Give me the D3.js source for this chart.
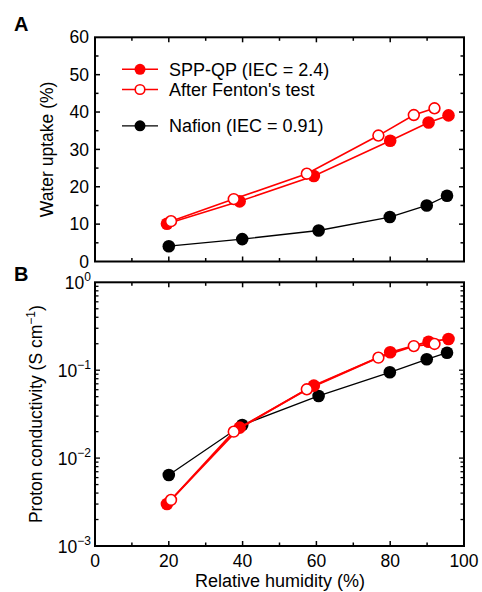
<!DOCTYPE html>
<html><head><meta charset="utf-8">
<script src="https://cdn.jsdelivr.net/npm/d3@7"></script>
<style>body{margin:0;background:#fff}svg{display:block;font-family:Arial,"Liberation Sans",sans-serif}</style>
</head><body>
<script>
// Data
const seriesNames = ["SPP-QP (IEC = 2.4)", "After Fenton's test", "Nafion (IEC = 0.91)"];
const rhSPP = [19.5, 39.2, 59.3, 80, 90.4, 95.8];
const rhFenton = [20.6, 37.6, 57.4, 76.8, 86.4, 92];
const rhNafion = [20, 39.9, 60.6, 79.9, 89.9, 95.4];
const wuSPP = [10.1, 16.1, 22.9, 32.3, 37.2, 39.1];
const wuFenton = [10.8, 16.7, 23.5, 33.7, 39.2, 41.0];
const wuNafion = [4.1, 6.0, 8.3, 11.9, 15.0, 17.6];
const pcSPP = [0.0030, 0.0222, 0.0667, 0.160, 0.211, 0.226];
const pcFenton = [0.00334, 0.0200, 0.0606, 0.139, 0.188, 0.199];
const pcNafion = [0.00643, 0.0238, 0.0509, 0.0946, 0.133, 0.158];
const xTicks = [0, 20, 40, 60, 80, 100];
const yTicksA = [0, 10, 20, 30, 40, 50, 60];
const yTicksB = [1e-3, 1e-2, 1e-1, 1];
const yTickExpB = ["−3", "−2", "−1", "0"];

const W = 482, H = 592;
const svg = d3.select("body").append("svg").attr("width", W).attr("height", H);

const x = d3.scaleLinear().domain([0, 100]).range([95, 464]);
const yA = d3.scaleLinear().domain([0, 60]).range([261.5, 37.3]);
const yB = d3.scaleLog().domain([1e-3, 1]).range([546, 282.3]);

const red = "#ff0000";

function frame(yTop, yBot) {
  svg.append("rect").attr("x", x(0)).attr("y", yTop).attr("width", x(100) - x(0)).attr("height", yBot - yTop)
    .attr("fill", "none").attr("stroke", "#000").attr("stroke-width", 2);
}

function xTicksDraw(yTop, yBot) {
  const g = svg.append("g").attr("stroke", "#000").attr("stroke-width", 1.5);
  d3.range(10, 100, 10).forEach(v => {
    const len = v % 20 === 0 ? 5 : 3.5;
    g.append("line").attr("x1", x(v)).attr("x2", x(v)).attr("y1", yBot).attr("y2", yBot - len);
    g.append("line").attr("x1", x(v)).attr("x2", x(v)).attr("y1", yTop).attr("y2", yTop + len);
  });
}

// Panel A
frame(yA(60), yA(0));
xTicksDraw(yA(60), yA(0));
{
  const g = svg.append("g").attr("stroke", "#000").attr("stroke-width", 1.5);
  d3.range(5, 60, 5).forEach(v => {
    const len = v % 10 === 0 ? 5 : 3.5;
    g.append("line").attr("x1", x(0)).attr("x2", x(0) + len).attr("y1", yA(v)).attr("y2", yA(v));
    g.append("line").attr("x1", x(100)).attr("x2", x(100) - len).attr("y1", yA(v)).attr("y2", yA(v));
  });
  svg.append("g").selectAll("text").data(yTicksA).join("text")
    .attr("x", 89).attr("y", d => yA(d)).attr("dy", "0.35em").attr("text-anchor", "end")
    .attr("font-size", 17.5).text(d => d);
}

function series(xs, ys, yScale, color, open, sw) {
  const line = d3.line().x((d, i) => x(xs[i])).y(d => yScale(d));
  svg.append("path").attr("d", line(ys)).attr("fill", "none").attr("stroke", color).attr("stroke-width", sw);
  svg.append("g").selectAll("circle").data(ys).join("circle")
    .attr("cx", (d, i) => x(xs[i])).attr("cy", d => yScale(d))
    .attr("r", open ? 5.4 : 6.3)
    .attr("fill", open ? "#fff" : color)
    .attr("stroke", open ? color : "none").attr("stroke-width", open ? 1.6 : 0);
}

series(rhNafion, wuNafion, yA, "#000", false, 1.3);
series(rhSPP, wuSPP, yA, red, false, 1.6);
series(rhFenton, wuFenton, yA, red, true, 1.6);

// Legend
const legend = [
  {name: seriesNames[0], color: red, open: false, y: 69.3},
  {name: seriesNames[1], color: red, open: true, y: 89.5},
  {name: seriesNames[2], color: "#000", open: false, y: 125.8}
];
legend.forEach(l => {
  svg.append("line").attr("x1", 122).attr("x2", 158).attr("y1", l.y).attr("y2", l.y)
    .attr("stroke", l.color).attr("stroke-width", l.color === "#000" ? 1.3 : 1.6);
  svg.append("circle").attr("cx", 140).attr("cy", l.y).attr("r", l.open ? 4.8 : 5.5)
    .attr("fill", l.open ? "#fff" : l.color).attr("stroke", l.open ? l.color : "none").attr("stroke-width", 1.6);
  svg.append("text").attr("x", 169).attr("y", l.y).attr("dy", "0.36em").attr("font-size", 18).text(l.name);
});

// Axis title A
svg.append("text").attr("transform", `translate(53,${(yA(0) + yA(60)) / 2}) rotate(-90)`)
  .attr("text-anchor", "middle").attr("font-size", 17.5).text("Water uptake (%)");

// Panel labels
svg.append("text").attr("x", 14).attr("y", 31).attr("font-size", 20).attr("font-weight", "bold").text("A");
svg.append("text").attr("x", 14).attr("y", 281).attr("font-size", 20).attr("font-weight", "bold").text("B");

// Panel B
frame(yB(1), yB(1e-3));
xTicksDraw(yB(1), yB(1e-3));
{
  const g = svg.append("g").attr("stroke", "#000").attr("stroke-width", 1.3);
  [1e-3, 1e-2, 1e-1].forEach(dec => {
    d3.range(1, 10).forEach(m => {
      const v = dec * m;
      if (m === 1 && dec === 1e-3) return;
      const len = m === 1 ? 5 : 3.5;
      g.append("line").attr("x1", x(0)).attr("x2", x(0) + len).attr("y1", yB(v)).attr("y2", yB(v));
      g.append("line").attr("x1", x(100)).attr("x2", x(100) - len).attr("y1", yB(v)).attr("y2", yB(v));
    });
  });
  const t = svg.append("g").selectAll("text").data(yTicksB).join("text")
    .attr("x", 91).attr("y", d => yB(d) + 6.5).attr("text-anchor", "end").attr("font-size", 17.5);
  t.append("tspan").text("10");
  t.append("tspan").attr("dy", -8).attr("font-size", 12).text((d, i) => yTickExpB[i]);
}

series(rhNafion, pcNafion, yB, "#000", false, 1.3);
series(rhSPP, pcSPP, yB, red, false, 1.8);
series(rhFenton, pcFenton, yB, red, true, 1.8);

// X tick labels
svg.append("g").selectAll("text").data(xTicks).join("text")
  .attr("x", d => x(d)).attr("y", 567).attr("text-anchor", "middle").attr("font-size", 17.5).text(d => d);

svg.append("text").attr("x", 280).attr("y", 587).attr("text-anchor", "middle").attr("font-size", 18)
  .text("Relative humidity (%)");

// Axis title B
{
  const tt = svg.append("text").attr("transform", `translate(42,${(yB(1) + yB(1e-3)) / 2}) rotate(-90)`)
    .attr("text-anchor", "middle").attr("font-size", 17.5);
  tt.append("tspan").text("Proton conductivity (S cm");
  tt.append("tspan").attr("dy", -7).attr("font-size", 12).text("−1");
  tt.append("tspan").attr("dy", 7).text(")");
}
</script>
</body></html>
